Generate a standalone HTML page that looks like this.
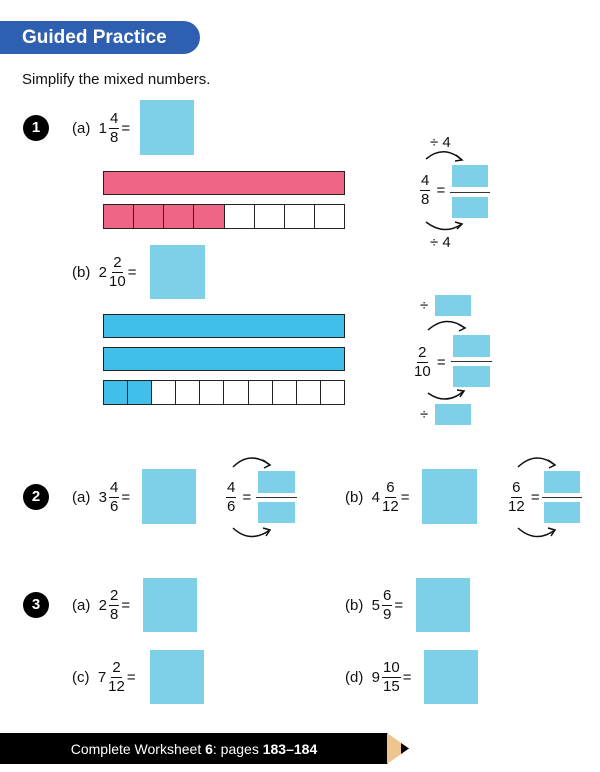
<!DOCTYPE html>
<html><head><meta charset="utf-8"><style>
body{margin:0;width:600px;height:772px;position:relative;background:#fff;font-family:"Liberation Sans",sans-serif;color:#111;overflow:hidden}
.a{position:absolute}
.box{position:absolute;background:#7dd0e8}
.t{position:absolute;font-size:15px;line-height:18px;white-space:nowrap}
.fr{display:inline-flex;flex-direction:column;align-items:center;vertical-align:middle;font-size:15px;line-height:16px;margin:0 2px}
.fr span:first-child{border-bottom:1.3px solid #111;padding:0 1px 1px}
.fr span:last-child{padding-top:1px}
.num{position:absolute;width:26px;height:26px;border-radius:50%;background:#000;color:#fff;font-weight:bold;font-size:15px;line-height:26px;text-align:center}
.row{position:absolute;display:flex;align-items:center;font-size:15px;white-space:nowrap}
.bar{position:absolute;border:1.3px solid #222;box-sizing:border-box;display:flex}
.bar div{flex:1;border-right:1px solid #222}
.bar div:last-child{border-right:none}
</style></head><body>
<div class="a" style="left:0;top:21px;width:200px;height:33px;background:#2e5fb0;border-radius:0 17px 17px 0"></div>
<div class="t" style="left:22px;top:27px;color:#fff;font-weight:bold;font-size:19px;line-height:22px">Guided Practice</div>
<div class="t" style="left:22px;top:71px">Simplify the mixed numbers.</div>

<div class="num" style="left:23px;top:115px">1</div>
<div class="row" style="left:72px;top:108px;height:40px">(a)&nbsp;&nbsp;1<span class="fr"><span>4</span><span>8</span></span>=</div>
<div class="box" style="left:140px;top:100px;width:54px;height:55px"></div>
<div class="a" style="left:103px;top:171px;width:242px;height:24px;background:#ef6585;border:1.3px solid #222;box-sizing:border-box"></div>
<div class="bar" style="left:103px;top:204px;width:242px;height:25px"><div style="background:#ef6585"></div><div style="background:#ef6585"></div><div style="background:#ef6585"></div><div style="background:#ef6585"></div><div></div><div></div><div></div><div></div></div>

<div class="t" style="left:430px;top:134px">÷ 4</div>
<div class="row" style="left:418px;top:170px;height:40px"><span class="fr"><span>4</span><span>8</span></span>&nbsp;=</div>
<div class="box" style="left:452px;top:165px;width:36px;height:22px"></div>
<div class="a" style="left:450px;top:192px;width:40px;height:1.3px;background:#333"></div>
<div class="box" style="left:452px;top:197px;width:36px;height:21px"></div>
<div class="t" style="left:430px;top:234px">÷ 4</div>

<div class="row" style="left:72px;top:252px;height:40px">(b)&nbsp;&nbsp;2<span class="fr"><span>2</span><span>10</span></span>=</div>
<div class="box" style="left:150px;top:245px;width:55px;height:54px"></div>
<div class="a" style="left:103px;top:314px;width:242px;height:24px;background:#40c0e8;border:1.3px solid #222;box-sizing:border-box"></div>
<div class="a" style="left:103px;top:347px;width:242px;height:24px;background:#40c0e8;border:1.3px solid #222;box-sizing:border-box"></div>
<div class="bar" style="left:103px;top:380px;width:242px;height:25px"><div style="background:#40c0e8"></div><div style="background:#40c0e8"></div><div></div><div></div><div></div><div></div><div></div><div></div><div></div><div></div></div>

<div class="t" style="left:420px;top:297px">÷</div>
<div class="box" style="left:435px;top:295px;width:36px;height:21px"></div>
<div class="row" style="left:412px;top:342px;height:40px"><span class="fr"><span>2</span><span>10</span></span>&nbsp;=</div>
<div class="box" style="left:453px;top:335px;width:37px;height:22px"></div>
<div class="a" style="left:451px;top:361px;width:41px;height:1.3px;background:#333"></div>
<div class="box" style="left:453px;top:366px;width:37px;height:21px"></div>
<div class="t" style="left:420px;top:406px">÷</div>
<div class="box" style="left:435px;top:404px;width:36px;height:21px"></div>

<div class="num" style="left:23px;top:484px">2</div>
<div class="row" style="left:72px;top:477px;height:40px">(a)&nbsp;&nbsp;3<span class="fr"><span>4</span><span>6</span></span>=</div>
<div class="box" style="left:142px;top:469px;width:54px;height:55px"></div>
<div class="row" style="left:224px;top:477px;height:40px"><span class="fr"><span>4</span><span>6</span></span>&nbsp;=</div>
<div class="box" style="left:258px;top:471px;width:37px;height:22px"></div>
<div class="a" style="left:256px;top:497px;width:41px;height:1.3px;background:#333"></div>
<div class="box" style="left:258px;top:502px;width:37px;height:21px"></div>

<div class="row" style="left:345px;top:477px;height:40px">(b)&nbsp;&nbsp;4<span class="fr"><span>6</span><span>12</span></span>=</div>
<div class="box" style="left:422px;top:469px;width:55px;height:55px"></div>
<div class="row" style="left:506px;top:477px;height:40px"><span class="fr"><span>6</span><span>12</span></span>&nbsp;=</div>
<div class="box" style="left:544px;top:471px;width:36px;height:22px"></div>
<div class="a" style="left:542px;top:497px;width:40px;height:1.3px;background:#333"></div>
<div class="box" style="left:544px;top:502px;width:36px;height:21px"></div>

<svg class="a" style="left:0;top:0" width="600" height="772" fill="none" stroke="#111" stroke-width="1.5">
<path d="M426 159 Q444 144 462 160"/><path d="M456 155 L462 160 L455 161"/>
<path d="M426 222 Q444 236 462 224"/><path d="M455 222 L462 224 L457 229"/>
<path d="M428 330 Q446 314 465 328"/><path d="M458 324 L465 328 L459 331"/>
<path d="M428 393 Q446 406 464 391"/><path d="M457 390 L464 391 L460 397"/>
<path d="M233 467 Q250 450 270 465"/><path d="M263 460 L270 465 L264 468"/>
<path d="M233 528 Q250 544 270 530"/><path d="M263 528 L270 530 L266 536"/>
<path d="M518 467 Q536 450 555 465"/><path d="M548 460 L555 465 L549 468"/>
<path d="M518 528 Q536 544 555 530"/><path d="M548 528 L555 530 L551 536"/>
</svg>

<div class="num" style="left:23px;top:592px">3</div>
<div class="row" style="left:72px;top:585px;height:40px">(a)&nbsp;&nbsp;2<span class="fr"><span>2</span><span>8</span></span>=</div>
<div class="box" style="left:143px;top:578px;width:54px;height:54px"></div>
<div class="row" style="left:345px;top:585px;height:40px">(b)&nbsp;&nbsp;5<span class="fr"><span>6</span><span>9</span></span>=</div>
<div class="box" style="left:416px;top:578px;width:54px;height:54px"></div>
<div class="row" style="left:72px;top:657px;height:40px">(c)&nbsp;&nbsp;7<span class="fr"><span>2</span><span>12</span></span>=</div>
<div class="box" style="left:150px;top:650px;width:54px;height:54px"></div>
<div class="row" style="left:345px;top:657px;height:40px">(d)&nbsp;&nbsp;9<span class="fr"><span>10</span><span>15</span></span>=</div>
<div class="box" style="left:424px;top:650px;width:54px;height:54px"></div>

<div class="a" style="left:0;top:733px;width:388px;height:31px;background:#000"></div>
<div class="t" style="left:0;top:740px;width:388px;text-align:center;color:#fff;font-size:14px">Complete Worksheet <b>6</b>: pages <b>183–184</b></div>
<svg class="a" style="left:387px;top:733px" width="25" height="31"><polygon points="0,0 22,15.5 0,31" fill="#efc58f"/><polygon points="14,10 22,15.5 14,21" fill="#000"/></svg>
</body></html>
